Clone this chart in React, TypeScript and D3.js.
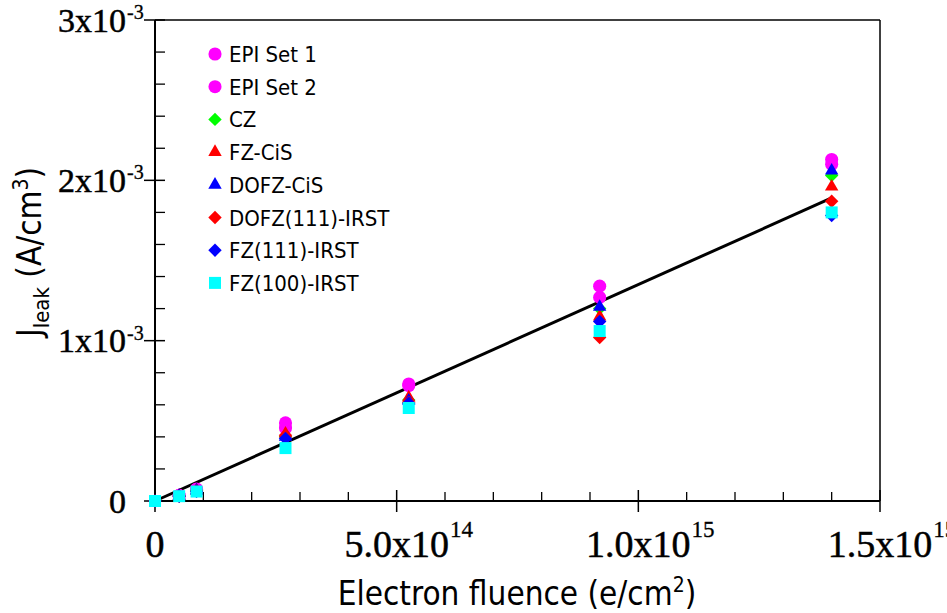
import * as d3 from 'd3';

// electron fluence (e/cm^2) of each measurement
const fluence = [0, 5e13, 8.6e13, 2.7e14, 5.25e14, 9.2e14, 1.4e15];

// leakage current density (A/cm^3); null = no measurement
const epiSet1 = [null, 0.035e-3, 0.075e-3, 0.487e-3, 0.73e-3, 1.34e-3, 2.13e-3];
const epiSet2 = [null, 0.033e-3, 0.072e-3, 0.455e-3, 0.72e-3, 1.27e-3, 2.1e-3];
const cz = [null, 0.032e-3, 0.065e-3, 0.4e-3, 0.63e-3, 1.2e-3, 2.03e-3];
const fzCis = [null, 0.033e-3, 0.065e-3, 0.42e-3, 0.645e-3, 1.15e-3, 1.96e-3];
const dofzCis = [null, 0.032e-3, 0.065e-3, 0.4e-3, 0.625e-3, 1.21e-3, 2.06e-3];
const dofz111 = [0, 0.03e-3, 0.062e-3, 0.41e-3, 0.615e-3, 1.02e-3, 1.87e-3];
const fz111 = [0, 0.03e-3, 0.06e-3, 0.39e-3, 0.61e-3, 1.12e-3, 1.78e-3];
const fz100 = [0, 0.03e-3, 0.059e-3, 0.33e-3, 0.58e-3, 1.06e-3, 1.8e-3];

// linear fit drawn through the data
const fitX = [0, 1.4e15];
const fitY = [0, 1.89e-3];

const xMajor = [0, 5e14, 1e15, 1.5e15];
const xMajorLabels = [['0', ''], ['5.0x10', '14'], ['1.0x10', '15'], ['1.5x10', '15']];
const yMajor = [0, 1e-3, 2e-3, 3e-3];
const yMajorLabels = [['0', ''], ['1x10', '-3'], ['2x10', '-3'], ['3x10', '-3']];

type Shape = 'circle' | 'diamond' | 'triangle' | 'square';
const series: { name: string; values: (number | null)[]; color: string; shape: Shape }[] = [
  { name: 'EPI Set 1', values: epiSet1, color: '#ff00ff', shape: 'circle' },
  { name: 'EPI Set 2', values: epiSet2, color: '#ff00ff', shape: 'circle' },
  { name: 'CZ', values: cz, color: '#00ff00', shape: 'diamond' },
  { name: 'FZ-CiS', values: fzCis, color: '#ff0000', shape: 'triangle' },
  { name: 'DOFZ-CiS', values: dofzCis, color: '#0000ff', shape: 'triangle' },
  { name: 'DOFZ(111)-IRST', values: dofz111, color: '#ff0000', shape: 'diamond' },
  { name: 'FZ(111)-IRST', values: fz111, color: '#0000ff', shape: 'diamond' },
  { name: 'FZ(100)-IRST', values: fz100, color: '#00ffff', shape: 'square' },
];

const W = 947, H = 613;
const M = { left: 155, right: 880, top: 20, bottom: 501 };
const SERIF = '"Liberation Serif", "Times New Roman", serif';
const SANS = '"DejaVu Sans Condensed", "DejaVu Sans", sans-serif';

const symbolPath = (shape: Shape) => {
  if (shape === 'circle') return d3.symbol(d3.symbolCircle, 135)()!;
  if (shape === 'triangle') return d3.symbol(d3.symbolTriangle, 78)()!;
  return d3.symbol(d3.symbolSquare, shape === 'square' ? 144 : 90)()!;
};

const measure = (txt: string, font: string) => {
  const ctx = document.createElement('canvas').getContext('2d')!;
  ctx.font = font;
  return ctx.measureText(txt).width;
};

function Marker({ shape, color, x, y }: { shape: Shape; color: string; x: number; y: number }) {
  return (
    <path
      d={symbolPath(shape)}
      fill={color}
      transform={`translate(${x},${y})${shape === 'diamond' ? ' rotate(45)' : ''}`}
    />
  );
}

export default function App() {
  const x = d3.scaleLinear().domain([0, 1.5e15]).range([M.left, M.right]);
  const y = d3.scaleLinear().domain([0, 3e-3]).range([M.bottom, M.top]);

  const xMinor = d3.range(1e14, 1.5e15, 1e14).filter(v => !xMajor.some(m => Math.abs(m - v) < 1));
  const yMinor = d3.range(0.2e-3, 3e-3, 0.2e-3).filter(v => !yMajor.some(m => Math.abs(m - v) < 1e-9));

  const fitLine = d3.line<number>().x(v => x(v)).y((_, i) => y(fitY[i]));

  const xFont = 38;
  const yFont = 34;

  return (
    <div style={{ position: 'absolute', left: 0, top: 0 }}>
      <svg width={W} height={H} style={{ display: 'block', background: '#fff' }}>
        {/* frame */}
        <line x1={M.left} x2={M.right} y1={M.top} y2={M.top} stroke="#000" strokeWidth={1.5} />
        <line x1={M.right} x2={M.right} y1={M.top} y2={M.bottom} stroke="#000" strokeWidth={1.5} />
        <line x1={M.left} x2={M.right} y1={M.bottom} y2={M.bottom} stroke="#000" strokeWidth={2} />
        <line x1={M.left} x2={M.left} y1={M.top} y2={M.bottom} stroke="#000" strokeWidth={2} />

        {/* x ticks */}
        {xMinor.map(v => (
          <line key={'xm' + v} x1={x(v)} x2={x(v)} y1={M.bottom} y2={M.bottom - 9} stroke="#000" strokeWidth={1.3} />
        ))}
        {xMajor.map((v, i) => {
          const [main, sup] = xMajorLabels[i];
          const w = measure(main, `${xFont}px ${SERIF}`);
          return (
            <g key={'xM' + v}>
              <line x1={x(v)} x2={x(v)} y1={M.bottom - 11} y2={M.bottom + 11} stroke="#000" strokeWidth={1.5} />
              <text x={x(v)} y={557} textAnchor="middle" fontFamily={SERIF} fontSize={xFont}
                stroke="#000" strokeWidth={0.5}>{main}</text>
              {sup && (
                <text x={x(v) + w / 2 + 1} y={537} fontFamily={SERIF} fontSize={23}
                  stroke="#000" strokeWidth={0.3}>{sup}</text>
              )}
            </g>
          );
        })}

        {/* y ticks */}
        {yMinor.map(v => (
          <line key={'ym' + v} x1={M.left} x2={M.left + 10} y1={y(v)} y2={y(v)} stroke="#000" strokeWidth={1.3} />
        ))}
        {yMajor.map((v, i) => {
          const [main, sup] = yMajorLabels[i];
          return (
            <g key={'yM' + v}>
              <line x1={M.left - 11} x2={M.left + 10} y1={y(v)} y2={y(v)} stroke="#000" strokeWidth={1.5} />
              <text x={126} y={y(v) + 11.5} textAnchor="end" fontFamily={SERIF} fontSize={yFont}
                stroke="#000" strokeWidth={0.5}>{main}</text>
              {sup && (
                <text x={127} y={y(v) - 1} fontFamily={SERIF} fontSize={20}
                  stroke="#000" strokeWidth={0.3}>{sup}</text>
              )}
            </g>
          );
        })}

        {/* fit */}
        <path d={fitLine(fitX)!} fill="none" stroke="#000" strokeWidth={3} />

        {/* data */}
        {series.map(s => (
          <g key={s.name}>
            {s.values.map((v, i) =>
              v == null ? null : (
                <Marker key={i} shape={s.shape} color={s.color} x={x(fluence[i])} y={y(v)} />
              )
            )}
          </g>
        ))}

        {/* legend */}
        {series.map((s, i) => {
          const cy = 54 + i * 32.7;
          return (
            <g key={'lg' + s.name}>
              <Marker shape={s.shape} color={s.color} x={215} y={cy} />
              <text x={229} y={cy + 8} fontFamily={SANS} fontSize={22} fill="#000">{s.name}</text>
            </g>
          );
        })}

        {/* axis titles */}
        <text x={517} y={605} textAnchor="middle" fontFamily={SANS} fontSize={33}>
          Electron fluence (e/cm<tspan dy={-13} fontSize={21}>2</tspan><tspan dy={13}>)</tspan>
        </text>
        <text transform="translate(41,252) rotate(-90)" textAnchor="middle" fontFamily={SANS} fontSize={33}>
          J<tspan dy={8} fontSize={22}>leak</tspan><tspan dy={-8}> (A/cm</tspan>
          <tspan dy={-13} fontSize={21}>3</tspan><tspan dy={13}>)</tspan>
        </text>
      </svg>
    </div>
  );
}
